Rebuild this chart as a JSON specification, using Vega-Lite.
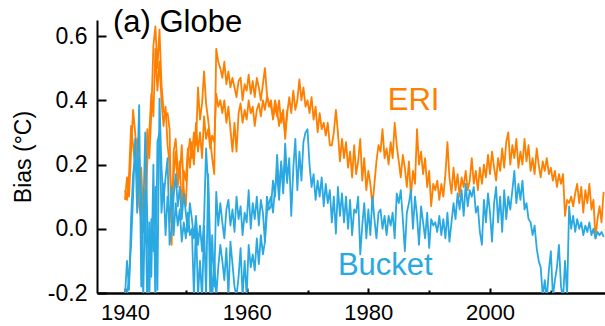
{
"$schema": "https://vega.github.io/schema/vega-lite/v6.json",
"width": 508, "height": 273,
"autosize": {"type": "none"},
"padding": {"left": 97, "top": 20, "right": 0, "bottom": 33},
"background": "white",
"config": {"view": {"stroke": null}, "font": "Liberation Sans"},
"title": {"text": "(a) Globe", "anchor": "start", "frame": "group", "fontSize": 31, "fontWeight": "normal", "color": "black", "baseline": "alphabetic", "offset": -13, "dx": 16, "dy": 30},
"datasets": {"series": [
{"t":1940,"E1":0.09,"B1":-0.21,"E2":0.12,"B2":-0.25},{"t":1940.33,"E1":0.16,"B1":-0.10,"E2":0.09,"B2":-0.21},{"t":1940.67,"E1":0.10,"B1":-0.19,"E2":0.17,"B2":-0.15},
{"t":1941,"E1":0.24,"B1":0.03,"E2":0.32,"B2":-0.05},{"t":1941.33,"E1":0.37,"B1":0.17,"E2":0.26,"B2":0.10},{"t":1941.67,"E1":0.30,"B1":0.22,"E2":0.20,"B2":0.28},
{"t":1942,"E1":0.22,"B1":0.16,"E2":0.28,"B2":0.05},{"t":1942.33,"E1":0.07,"B1":0.385,"E2":0.11,"B2":0.22},{"t":1942.67,"E1":0.03,"B1":-0.18,"E2":0.19,"B2":0.10},
{"t":1943,"E1":-0.01,"B1":0.04,"E2":0.04,"B2":-0.22},{"t":1943.33,"E1":0.12,"B1":0.30,"E2":0.01,"B2":0.12},{"t":1943.67,"E1":0.31,"B1":0.03,"E2":0.21,"B2":-0.25},
{"t":1944,"E1":0.22,"B1":-0.21,"E2":0.30,"B2":0.02},{"t":1944.33,"E1":0.36,"B1":0.03,"E2":0.42,"B2":-0.15},{"t":1944.67,"E1":0.57,"B1":-0.07,"E2":0.35,"B2":0.20},
{"t":1945,"E1":0.63,"B1":0.13,"E2":0.56,"B2":-0.25},{"t":1945.33,"E1":0.50,"B1":-0.19,"E2":0.43,"B2":0.27},{"t":1945.67,"E1":0.62,"B1":0.405,"E2":0.52,"B2":0.30},
{"t":1946,"E1":0.45,"B1":0.19,"E2":0.40,"B2":0.05},{"t":1946.33,"E1":0.37,"B1":0.09,"E2":0.32,"B2":0.14},{"t":1946.67,"E1":0.35,"B1":0.16,"E2":0.38,"B2":-0.02},
{"t":1947,"E1":0.36,"B1":0.22,"E2":0.26,"B2":0.10},{"t":1947.33,"E1":0.31,"B1":-0.05,"E2":0.20,"B2":0.02},{"t":1947.67,"E1":-0.05,"B1":0.00,"E2":0.09,"B2":0.13},
{"t":1948,"E1":0.24,"B1":0.10,"E2":0.17,"B2":-0.02},{"t":1948.33,"E1":0.28,"B1":0.17,"E2":0.24,"B2":0.08},{"t":1948.67,"E1":0.19,"B1":0.07,"E2":0.13,"B2":0.01},
{"t":1949,"E1":0.16,"B1":0.13,"E2":0.21,"B2":0.06},{"t":1949.33,"E1":0.26,"B1":0.03,"E2":0.06,"B2":-0.04},{"t":1949.67,"E1":0.12,"B1":0.11,"E2":0.18,"B2":0.02},
{"t":1950,"E1":0.07,"B1":0.05,"E2":0.15,"B2":-0.03},{"t":1950.33,"E1":0.22,"B1":-0.01,"E2":0.25,"B2":0.05},{"t":1950.67,"E1":0.28,"B1":0.08,"E2":0.19,"B2":-0.02},
{"t":1951,"E1":0.22,"B1":0.03,"E2":0.27,"B2":0.00},{"t":1951.33,"E1":0.30,"B1":-0.03,"E2":0.20,"B2":-0.21},{"t":1951.67,"E1":0.26,"B1":0.04,"E2":0.33,"B2":0.02},
{"t":1952,"E1":0.44,"B1":-0.05,"E2":0.24,"B2":-0.21},{"t":1952.33,"E1":0.34,"B1":0.01,"E2":0.30,"B2":-0.10},{"t":1952.67,"E1":0.39,"B1":-0.07,"E2":0.22,"B2":-0.22},
{"t":1953,"E1":0.49,"B1":0.03,"E2":0.35,"B2":0.01},{"t":1953.33,"E1":0.39,"B1":0.25,"E2":0.28,"B2":-0.21},{"t":1953.67,"E1":0.34,"B1":0.13,"E2":0.31,"B2":0.17},
{"t":1954,"E1":0.28,"B1":-0.21,"E2":0.25,"B2":-0.05},{"t":1954.33,"E1":0.22,"B1":-0.02,"E2":0.29,"B2":-0.22},{"t":1954.67,"E1":0.17,"B1":-0.18,"E2":0.27,"B2":-0.10},
{"t":1955,"E1":0.56,"B1":0.115,"E2":0.42,"B2":-0.21},{"t":1955.33,"E1":0.52,"B1":0.01,"E2":0.38,"B2":-0.12},{"t":1955.67,"E1":0.50,"B1":0.08,"E2":0.40,"B2":-0.05},
{"t":1956,"E1":0.47,"B1":0.02,"E2":0.36,"B2":-0.10},{"t":1956.33,"E1":0.52,"B1":-0.03,"E2":0.40,"B2":-0.16},{"t":1956.67,"E1":0.45,"B1":0.06,"E2":0.33,"B2":-0.06},
{"t":1957,"E1":0.49,"B1":0.09,"E2":0.38,"B2":-0.21},{"t":1957.33,"E1":0.44,"B1":0.01,"E2":0.31,"B2":-0.04},{"t":1957.67,"E1":0.47,"B1":0.06,"E2":0.24,"B2":-0.11},
{"t":1958,"E1":0.44,"B1":-0.01,"E2":0.33,"B2":-0.18},{"t":1958.33,"E1":0.41,"B1":0.10,"E2":0.24,"B2":-0.21},{"t":1958.67,"E1":0.46,"B1":0.03,"E2":0.36,"B2":-0.15},
{"t":1959,"E1":0.47,"B1":0.07,"E2":0.39,"B2":-0.06},{"t":1959.33,"E1":0.40,"B1":-0.02,"E2":0.33,"B2":-0.21},{"t":1959.67,"E1":0.45,"B1":0.05,"E2":0.37,"B2":-0.10},
{"t":1960,"E1":0.43,"B1":0.02,"E2":0.34,"B2":-0.21},{"t":1960.33,"E1":0.48,"B1":0.12,"E2":0.40,"B2":-0.05},{"t":1960.67,"E1":0.42,"B1":0.00,"E2":0.36,"B2":-0.12},
{"t":1961,"E1":0.46,"B1":0.08,"E2":0.38,"B2":-0.08},{"t":1961.33,"E1":0.41,"B1":0.03,"E2":0.32,"B2":-0.13},{"t":1961.67,"E1":0.47,"B1":0.10,"E2":0.37,"B2":-0.03},
{"t":1962,"E1":0.44,"B1":0.01,"E2":0.39,"B2":-0.11},{"t":1962.33,"E1":0.40,"B1":0.09,"E2":0.35,"B2":-0.02},{"t":1962.67,"E1":0.45,"B1":0.05,"E2":0.40,"B2":-0.08},
{"t":1963,"E1":0.50,"B1":-0.04,"E2":0.37,"B2":-0.04},{"t":1963.33,"E1":0.42,"B1":0.10,"E2":0.41,"B2":0.05},{"t":1963.67,"E1":0.38,"B1":0.06,"E2":0.39,"B2":0.08},
{"t":1964,"E1":0.40,"B1":0.07,"E2":0.38,"B2":0.10},{"t":1964.33,"E1":0.34,"B1":0.15,"E2":0.35,"B2":0.05},{"t":1964.67,"E1":0.38,"B1":0.10,"E2":0.40,"B2":0.13},
{"t":1965,"E1":0.35,"B1":0.23,"E2":0.37,"B2":0.17},{"t":1965.33,"E1":0.40,"B1":0.12,"E2":0.32,"B2":0.09},{"t":1965.67,"E1":0.33,"B1":0.20,"E2":0.36,"B2":0.21},
{"t":1966,"E1":0.37,"B1":0.13,"E2":0.34,"B2":0.11},{"t":1966.33,"E1":0.28,"B1":0.265,"E2":0.30,"B2":0.22},{"t":1966.67,"E1":0.36,"B1":0.15,"E2":0.37,"B2":0.14},
{"t":1967,"E1":0.41,"B1":0.22},{"t":1967.33,"E1":0.36,"B1":0.04},{"t":1967.67,"E1":0.43,"B1":0.19},
{"t":1968,"E1":0.37,"B1":0.28},{"t":1968.33,"E1":0.40,"B1":0.12},{"t":1968.67,"E1":0.465,"B1":0.24},
{"t":1969,"E1":0.40,"B1":0.15},{"t":1969.33,"E1":0.44,"B1":0.27},{"t":1969.67,"E1":0.38,"B1":0.30},
{"t":1970,"E1":0.40,"B1":0.31},{"t":1970.33,"E1":0.36,"B1":0.20},{"t":1970.67,"E1":0.41,"B1":0.13},
{"t":1971,"E1":0.34,"B1":0.17},{"t":1971.33,"E1":0.38,"B1":0.09},{"t":1971.67,"E1":0.30,"B1":0.15},
{"t":1972,"E1":0.36,"B1":0.10},{"t":1972.33,"E1":0.31,"B1":0.16},{"t":1972.67,"E1":0.33,"B1":0.07},
{"t":1973,"E1":0.29,"B1":0.14},{"t":1973.33,"E1":0.33,"B1":0.08},{"t":1973.67,"E1":0.26,"B1":0.12},
{"t":1974,"E1":0.26,"B1":0.02},{"t":1974.33,"E1":0.30,"B1":0.10},{"t":1974.67,"E1":0.37,"B1":-0.015},
{"t":1975,"E1":0.30,"B1":0.13},{"t":1975.33,"E1":0.21,"B1":0.04},{"t":1975.67,"E1":0.28,"B1":0.11},
{"t":1976,"E1":0.22,"B1":0.02},{"t":1976.33,"E1":0.27,"B1":0.10},{"t":1976.67,"E1":0.19,"B1":0.00},
{"t":1977,"E1":0.24,"B1":0.09},{"t":1977.33,"E1":0.16,"B1":-0.02},{"t":1977.67,"E1":0.26,"B1":0.06},
{"t":1978,"E1":0.17,"B1":0.05},{"t":1978.33,"E1":0.21,"B1":0.10},{"t":1978.67,"E1":0.28,"B1":-0.08},
{"t":1979,"E1":0.15,"B1":0.01},{"t":1979.33,"E1":0.22,"B1":0.08},{"t":1979.67,"E1":0.12,"B1":-0.03},
{"t":1980,"E1":0.18,"B1":0.06},{"t":1980.33,"E1":0.14,"B1":-0.02},{"t":1980.67,"E1":0.07,"B1":0.10},
{"t":1981,"E1":0.14,"B1":0.03},{"t":1981.33,"E1":0.21,"B1":-0.03},{"t":1981.67,"E1":0.26,"B1":0.05},
{"t":1982,"E1":0.24,"B1":0.06},{"t":1982.33,"E1":0.31,"B1":0.00},{"t":1982.67,"E1":0.22,"B1":0.04},
{"t":1983,"E1":0.25,"B1":-0.02},{"t":1983.33,"E1":0.20,"B1":0.04},{"t":1983.67,"E1":0.27,"B1":0.01},
{"t":1984,"E1":0.22,"B1":0.05},{"t":1984.33,"E1":0.33,"B1":-0.03},{"t":1984.67,"E1":0.26,"B1":0.11},
{"t":1985,"E1":0.21,"B1":0.08},{"t":1985.33,"E1":0.16,"B1":0.12},{"t":1985.67,"E1":0.23,"B1":0.03},
{"t":1986,"E1":0.19,"B1":-0.07},{"t":1986.33,"E1":0.13,"B1":0.05},{"t":1986.67,"E1":0.21,"B1":0.08},
{"t":1987,"E1":0.10,"B1":0.12},{"t":1987.33,"E1":0.18,"B1":0.00},{"t":1987.67,"E1":0.14,"B1":0.10},
{"t":1988,"E1":0.31,"B1":0.04},{"t":1988.33,"E1":0.20,"B1":-0.05},{"t":1988.67,"E1":0.24,"B1":0.07},
{"t":1989,"E1":0.17,"B1":0.02},{"t":1989.33,"E1":0.22,"B1":-0.03},{"t":1989.67,"E1":0.13,"B1":0.05},
{"t":1990,"E1":0.18,"B1":-0.06},{"t":1990.33,"E1":0.07,"B1":0.03},{"t":1990.67,"E1":0.14,"B1":0.01},
{"t":1991,"E1":0.12,"B1":0.02},{"t":1991.33,"E1":0.15,"B1":-0.01},{"t":1991.67,"E1":0.09,"B1":0.04},
{"t":1992,"E1":0.14,"B1":-0.02},{"t":1992.33,"E1":0.10,"B1":0.03},{"t":1992.67,"E1":0.17,"B1":-0.03},
{"t":1993,"E1":0.27,"B1":0.05},{"t":1993.33,"E1":0.16,"B1":-0.04},{"t":1993.67,"E1":0.11,"B1":0.02},
{"t":1994,"E1":0.19,"B1":0.08},{"t":1994.33,"E1":0.12,"B1":0.03},{"t":1994.67,"E1":0.17,"B1":0.11},
{"t":1995,"E1":0.10,"B1":0.06},{"t":1995.33,"E1":0.16,"B1":0.12},{"t":1995.67,"E1":0.13,"B1":0.04},
{"t":1996,"E1":0.18,"B1":0.14},{"t":1996.33,"E1":0.12,"B1":0.07},{"t":1996.67,"E1":0.15,"B1":0.12},
{"t":1997,"E1":0.22,"B1":0.10},{"t":1997.33,"E1":0.14,"B1":0.13},{"t":1997.67,"E1":0.18,"B1":0.05},
{"t":1998,"E1":0.12,"B1":0.07},{"t":1998.33,"E1":0.19,"B1":-0.01},{"t":1998.67,"E1":0.14,"B1":-0.05},
{"t":1999,"E1":0.20,"B1":0.09},{"t":1999.33,"E1":0.16,"B1":0.02},{"t":1999.67,"E1":0.23,"B1":0.11},
{"t":2000,"E1":0.17,"B1":0.05},{"t":2000.33,"E1":0.24,"B1":-0.04},{"t":2000.67,"E1":0.19,"B1":0.08},
{"t":2001,"E1":0.15,"B1":0.13},{"t":2001.33,"E1":0.22,"B1":0.02},{"t":2001.67,"E1":0.18,"B1":0.10},
{"t":2002,"E1":0.25,"B1":-0.01},{"t":2002.33,"E1":0.19,"B1":0.12},{"t":2002.67,"E1":0.27,"B1":0.03},
{"t":2003,"E1":0.30,"B1":0.10},{"t":2003.33,"E1":0.20,"B1":0.06},{"t":2003.67,"E1":0.26,"B1":0.12},
{"t":2004,"E1":0.22,"B1":0.18},{"t":2004.33,"E1":0.28,"B1":0.08},{"t":2004.67,"E1":0.19,"B1":0.14},
{"t":2005,"E1":0.24,"B1":0.09},{"t":2005.33,"E1":0.20,"B1":0.15},{"t":2005.67,"E1":0.28,"B1":0.06},
{"t":2006,"E1":0.21,"B1":0.08},{"t":2006.33,"E1":0.26,"B1":0.03},{"t":2006.67,"E1":0.18,"B1":0.02},
{"t":2007,"E1":0.22,"B1":-0.02},{"t":2007.33,"E1":0.17,"B1":0.01},{"t":2007.67,"E1":0.25,"B1":-0.06},
{"t":2008,"E1":0.20,"B1":-0.10},{"t":2008.33,"E1":0.16,"B1":-0.12},{"t":2008.67,"E1":0.21,"B1":-0.21},
{"t":2009,"E1":0.18,"B1":-0.16},{"t":2009.33,"E1":0.22,"B1":-0.22},{"t":2009.67,"E1":0.17,"B1":-0.13},
{"t":2010,"E1":0.19,"B1":-0.07},{"t":2010.33,"E1":0.15,"B1":-0.21},{"t":2010.67,"E1":0.18,"B1":-0.16},
{"t":2011,"E1":0.13,"B1":-0.12},{"t":2011.33,"E1":0.17,"B1":-0.05},{"t":2011.67,"E1":0.14,"B1":-0.18},
{"t":2012,"E1":0.17,"B1":-0.22},{"t":2012.33,"E1":0.04,"B1":-0.10},{"t":2012.67,"E1":0.09,"B1":-0.21},
{"t":2013,"E1":0.08,"B1":0.07},{"t":2013.33,"E1":0.10,"B1":0.00},{"t":2013.67,"E1":0.07,"B1":0.04},
{"t":2014,"E1":0.11,"B1":-0.01},{"t":2014.33,"E1":0.14,"B1":0.03},{"t":2014.67,"E1":0.08,"B1":0.00},
{"t":2015,"E1":0.13,"B1":0.02},{"t":2015.33,"E1":0.05,"B1":-0.02},{"t":2015.67,"E1":0.12,"B1":0.01},
{"t":2016,"E1":0.08,"B1":-0.01},{"t":2016.33,"E1":0.14,"B1":0.02},{"t":2016.67,"E1":0.06,"B1":-0.02},
{"t":2017,"E1":0.09,"B1":0.00},{"t":2017.33,"E1":-0.03,"B1":-0.03},{"t":2017.67,"E1":0.03,"B1":-0.01},
{"t":2018,"E1":0.07,"B1":-0.02},{"t":2018.33,"E1":0.02,"B1":-0.01},{"t":2018.67,"E1":0.115,"B1":-0.025}
],
"labels": [{"label": "ERI", "group": "ERI"}, {"label": "Bucket", "group": "Bucket"}]},
"layer": [
  {"data": {"name": "series"},
   "transform": [{"fold": ["E1", "E2"], "as": ["series", "v"]}, {"filter": "isValid(datum.v)"}],
   "mark": {"type": "line", "color": "#FF7F00", "strokeWidth": 1.8, "clip": true, "strokeJoin": "round"},
   "encoding": {
     "x": {"field": "t", "type": "quantitative",
       "scale": {"domain": [1935.4, 2018.9], "nice": false, "zero": false},
       "axis": {"values": [1940,1945,1950,1955,1960,1965,1970,1975,1980,1985,1990,1995,2000,2005,2010,2015],
         "format": "d", "labelExpr": "datum.value % 20 == 0 ? datum.label : ''",
         "tickSize": {"condition": {"test": "datum.value % 20 == 0", "value": -5}, "value": -3},
         "tickWidth": 2, "tickColor": "black", "domainWidth": 2.5, "domainColor": "black",
         "labelFontSize": 22, "labelColor": "black", "labelPadding": 14, "labelFlush": false,
         "title": null, "grid": false}},
     "y": {"field": "v", "type": "quantitative",
       "scale": {"domain": [-0.2, 0.65], "nice": false, "zero": false},
       "axis": {"values": [-0.2, 0, 0.2, 0.4, 0.6], "format": ".1f", "labelExpr": "replace(datum.label, '−', '-')",
         "tickSize": -9, "tickWidth": 2, "tickColor": "black", "domainWidth": 2, "domainColor": "black",
         "labelFontSize": 23, "labelColor": "black", "labelPadding": 19,
         "title": "Bias (°C)", "titleFontSize": 23, "titleFontWeight": "normal", "titleColor": "black", "titlePadding": 12,
         "grid": false}},
     "detail": {"field": "series"}}},
  {"data": {"name": "series"},
   "transform": [{"fold": ["B1", "B2"], "as": ["series", "v"]}, {"filter": "isValid(datum.v)"}],
   "mark": {"type": "line", "color": "#2AA8E2", "strokeWidth": 1.8, "clip": true, "strokeJoin": "round"},
   "encoding": {
     "x": {"field": "t", "type": "quantitative"},
     "y": {"field": "v", "type": "quantitative"},
     "detail": {"field": "series"}}},
  {"data": {"name": "labels"},
   "transform": [{"filter": "datum.group == 'ERI'"}],
   "mark": {"type": "text", "fontSize": 31, "color": "#FF7F00", "align": "left", "baseline": "alphabetic"},
   "encoding": {"x": {"datum": 1983.2}, "y": {"datum": 0.371}, "text": {"field": "label"}}},
  {"data": {"name": "labels"},
   "transform": [{"filter": "datum.group == 'Bucket'"}],
   "mark": {"type": "text", "fontSize": 31, "color": "#2AA8E2", "align": "left", "baseline": "alphabetic"},
   "encoding": {"x": {"datum": 1975.0}, "y": {"datum": -0.1455}, "text": {"field": "label"}}}
]
}
